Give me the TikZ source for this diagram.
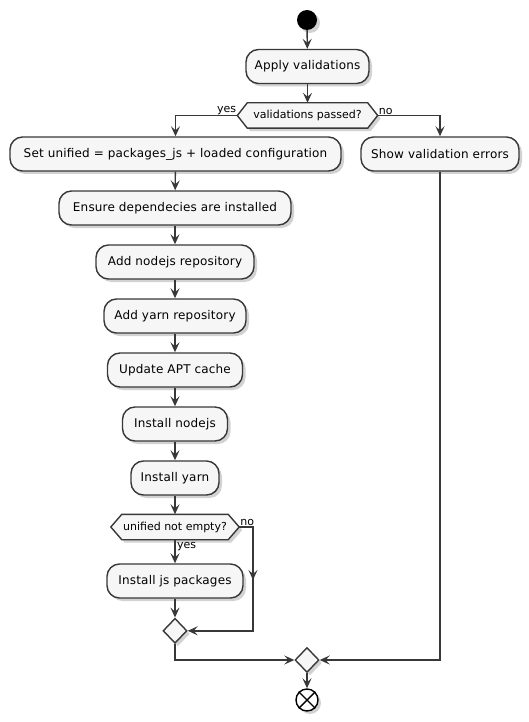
\documentclass[tikz,border=0pt]{standalone}
\usepackage{fontspec}
\setmainfont{DejaVu Sans}
\newfontfamily\actfont[LetterSpace=1.5]{DejaVu Sans}
\usetikzlibrary{arrows.meta,shapes.geometric,shadows,backgrounds,calc}
\definecolor{cline}{HTML}{383838}
\definecolor{cfill}{HTML}{F6F6F6}
\tikzset{
  shad/.style={drop shadow={shadow xshift=3pt,shadow yshift=-3pt,opacity=0.25,fill=black!70}},
  act/.style={draw=cline,fill=cfill,rounded corners=12.5pt,line width=1.4pt,minimum height=34pt,
    inner xsep=4pt,inner ysep=0pt,font=\actfont\fontsize{12}{14}\selectfont,shad},
  hexn/.style={draw=none,minimum height=25pt,inner sep=0pt,font=\fontsize{11}{13}\selectfont},
  hexd/.style={draw=cline,fill=cfill,line width=1.4pt,shad},
  merge/.style={diamond,draw=cline,fill=cfill,line width=1.4pt,minimum width=24pt,minimum height=25pt,inner sep=0pt,shad},
  lbl/.style={font=\fontsize{11}{13}\selectfont,inner sep=1pt},
  arr/.style={draw=cline,line width=1.4pt,-{Stealth[length=10pt,width=9pt,inset=4pt]}},
  startn/.style={circle,fill=black,minimum size=20pt,inner sep=0pt,shad},
  stopn/.style={circle,draw=black,fill=white,line width=1.4pt,minimum size=22pt,inner sep=0pt,shad},
}
\begin{document}
\begin{tikzpicture}[x=1pt,y=-1pt]
\useasboundingbox (0,0) rectangle (529,722);
\node[startn] (start) at (307,20) {};
\node[act,minimum width=123pt] (apply) at (307.5,66.5) {Apply validations};
\node[hexn,minimum width=120pt] (d1) at (307.5,115.5) {validations passed?};
\coordinate (d1W) at ($(d1.west)+(-10,0)$);
\coordinate (d1E) at ($(d1.east)+(10,0)$);
\begin{pgfonlayer}{background}
\draw[hexd] (d1.north west) -- (d1.north east) -- (d1E) -- (d1.south east) -- (d1.south west) -- (d1W) -- cycle;
\end{pgfonlayer}
\node[lbl,anchor=south east] (yes1) at (d1W) {yes};
\node[lbl,anchor=south west] (no1) at (d1E) {no};
\node[act,minimum width=331pt] (set) at (175.5,154) {Set unified = packages\_js + loaded configuration};
\node[act,minimum width=158pt] (show) at (440,154) {Show validation errors};
\node[act,minimum width=232pt] (ens) at (175,208) {Ensure dependecies are installed};
\node[act,minimum width=158pt] (node) at (175,262) {Add nodejs repository};
\node[act,minimum width=142pt] (yarnr) at (175,316) {Add yarn repository};
\node[act,minimum width=135pt] (apt) at (175,370) {Update APT cache};
\node[act,minimum width=105pt] (inode) at (175,424) {Install nodejs};
\node[act,minimum width=88pt] (iyarn) at (175,478) {Install yarn};
\node[hexn,minimum width=106pt] (h2) at (175,527) {unified not empty?};
\coordinate (h2W) at ($(h2.west)+(-11,0)$);
\coordinate (h2E) at ($(h2.east)+(11,0)$);
\begin{pgfonlayer}{background}
\draw[hexd] (h2.north west) -- (h2.north east) -- (h2E) -- (h2.south east) -- (h2.south west) -- (h2W) -- cycle;
\end{pgfonlayer}
\node[lbl,anchor=south west] (no2) at (h2E) {no};
\node[lbl,anchor=north west] (yes2) at ($(h2.south)+(1,1)$) {yes};
\node[act,minimum width=136pt] (js) at (175,581) {Install js packages};
\node[merge] (m1) at (175,630.8) {};
\node[merge] (m2) at (307,660) {};
\node[stopn] (stop) at (307,700) {};
\draw[black,line width=1.4pt] (stop.north west) -- (stop.south east) (stop.north east) -- (stop.south west);
\coordinate (nA) at (253,527);
\coordinate (nB) at (253,630.8);
\coordinate (nM) at (253,580);
% connectors
\draw[arr] (start) -- (apply);
\draw[arr] (apply) -- (d1.north);
\draw[arr] (d1W) -| (set.north);
\draw[arr] (d1E) -| (show.north);
\draw[arr] (set) -- (ens);
\draw[arr] (ens) -- (node);
\draw[arr] (node) -- (yarnr);
\draw[arr] (yarnr) -- (apt);
\draw[arr] (apt) -- (inode);
\draw[arr] (inode) -- (iyarn);
\draw[arr] (iyarn) -- (h2.north);
\draw[arr] (h2.south) -- (js);
\draw[arr] (js) -- (m1);
\draw[arr] (h2E) -- (nA) -- (nB) -- (m1.east);
\draw[arr] (nA) -- (nM);
\draw[arr] (m1.south) |- (m2.west);
\draw[arr] (show.south) |- (m2.east);
\draw[arr] (m2) -- (stop);
\end{tikzpicture}
\end{document}
